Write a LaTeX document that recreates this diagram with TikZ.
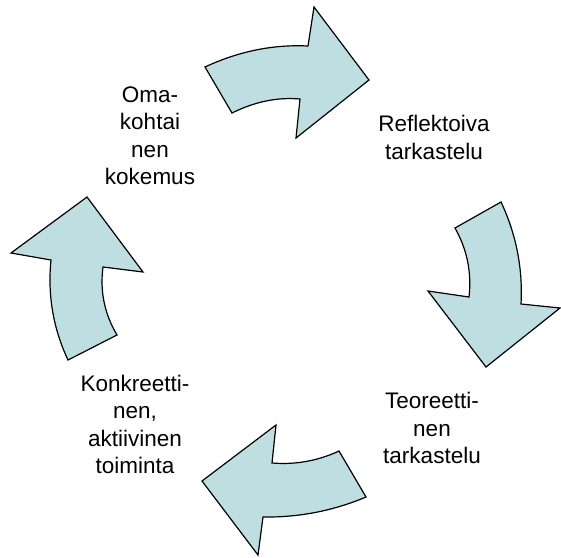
\documentclass[tikz,border=0pt]{standalone}
\usepackage{fontspec}
\setmainfont{Liberation Sans}
\definecolor{arrowfill}{RGB}{191,222,226}
\begin{document}
\begin{tikzpicture}[x=1pt,y=-1pt,
  arrowshape/.style={draw=black, line width=1.2pt, fill=arrowfill, line join=miter},
  lbl/.style={align=center, font=\fontsize{22.5}{27.5}\selectfont, inner sep=0pt}]
\useasboundingbox (0,0) rectangle (561,557);
% top arrow
\draw[arrowshape] (205,67) .. controls (238.7,51.3) and (273,44.3) .. (308,46) -- (314,7) -- (369,80)
  -- (296,138) -- (300,99) .. controls (277.3,97) and (254.7,101.7) .. (232,113) -- cycle;
% right arrow
\draw[arrowshape] (455,228) -- (501,202) .. controls (516.2,234.3) and (522.9,268.3) .. (521,304) -- (560,308)
  -- (486,367) -- (428,291) -- (469,297) .. controls (471.8,272.5) and (467.1,249.5) .. cycle;
% bottom arrow
\draw[arrowshape] (339,451) -- (366,497) .. controls (333,510.9) and (298.7,517.5) .. (263,517) -- (258,555)
  -- (202,481) -- (276,425) -- (272,463) .. controls (295.4,464.9) and (317.7,460.9) .. cycle;
% left arrow
\draw[arrowshape] (87,197) -- (143,272) -- (103,267) .. controls (99.8,291.3) and (104.5,313.9) .. (117,335)
  -- (68,360) .. controls (53.1,328.3) and (47.5,294.9) .. (51,260) -- (11,253) -- cycle;
% labels
\node[lbl] (oma) at (150,135.6) {Oma-\\kohtai\\nen\\kokemus};
\node[lbl] (refl) at (434,137.5) {Reflektoiva\\tarkastelu};
\node[lbl] (teor) at (432,428.4) {Teoreetti-\\nen\\tarkastelu};
\node[lbl] (konk) at (135,424.2) {Konkreetti-\\nen,\\aktiivinen\\toiminta};
\end{tikzpicture}
\end{document}
